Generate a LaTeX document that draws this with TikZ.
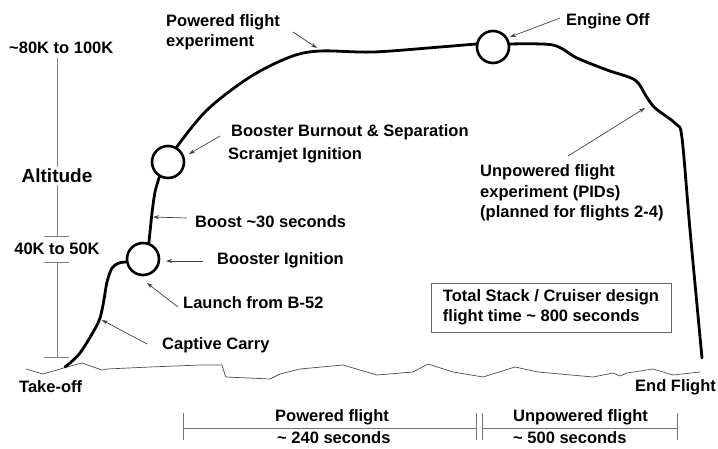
\documentclass[tikz,border=0pt]{standalone}
\usepackage{fontspec}
\setmainfont{Liberation Sans}
\usetikzlibrary{arrows.meta}
\begin{document}
\begin{tikzpicture}[x=1pt,y=-1pt,
  lbl/.style={font=\fontsize{16.5}{20.5}\selectfont\bfseries, inner sep=0pt, anchor=west, align=left},
  ptr/.style={-{Stealth[length=6pt,width=4pt]}, line width=0.7pt, draw=black!75},
  evt/.style={circle, draw=black, line width=2.6pt, minimum size=32pt, inner sep=0pt},
  traj/.style={line width=2.8pt, line cap=round, line join=round},
  axis/.style={draw=black!50, line width=0.9pt},
  ground/.style={draw=black!70, line width=0.7pt, line join=round},
  tl/.style={draw=black!55, line width=0.8pt}
  ]
\useasboundingbox (0,0) rectangle (718,448);

% ground
\draw[ground] plot coordinates {(26,369) (43,374) (67,367) (82,363) (102,370) (107,369) (150,367) (200,365) (222,365) (225,375) (226,377) (270,379) (280,374) (300,369) (343,365) (377,375) (413,372) (428,364) (453,372) (483,377) (515,367) (538,372) (593,377) (613,373) (620,376) (627,373) (653,369) (673,375) (700,372)};

% altitude axis
\draw[axis] (57,58) -- (57,236);
\draw[axis] (44,236) -- (69,236);
\draw[axis] (44,262) -- (69,262);
\draw[axis] (57,262) -- (57,357);
\draw[axis] (44,357) -- (69,357);
\node[lbl] (n80) at (9,48) {\textasciitilde80K to 100K};
\node[font=\fontsize{19}{22}\selectfont\bfseries, fill=white, inner sep=2pt] (alt) at (57,176) {Altitude};
\node[lbl, anchor=center] (n40) at (57,249) {40K to 50K};

% event circles
\node[evt] (c1) at (143,259) {};
\node[evt] (c2) at (168,162) {};
\node[evt] (c3) at (493,47) {};
\coordinate (to) at (65,367);
\coordinate (ef) at (702,358);

% trajectory
\draw[traj] plot[smooth, tension=0.5] coordinates {(to) (80,353) (98,323) (103,305) (107,282) (112,268) (119,263) (c1.190)};
\draw[traj] plot[smooth, tension=0.5] coordinates {(c1.70) (152,213) (155,192) (c2.240)};
\draw[traj] plot[smooth, tension=0.55] coordinates {(c2.60) (207,110) (250,77) (290,57) (320,51) (373,52) (440,47) (c3.170)};
\draw[traj] plot[smooth, tension=0.5] coordinates {(c3.10) (553,45) (577,58) (607,70) (635,80) (646,96) (655,108) (676,124) (682,138) (690,230) (ef)};

% labels
\node[lbl] (pfe) at (166,32) {Powered flight\\experiment};
\node[lbl] (eo) at (566,21) {Engine Off};
\node[lbl] (bbs) at (231,132) {Booster Burnout \& Separation};
\node[lbl] (sji) at (228,155) {Scramjet Ignition};
\node[lbl] (b30) at (195,222) {Boost \textasciitilde30 seconds};
\node[lbl] (bi) at (217,260) {Booster Ignition};
\node[lbl] (lb) at (183,303) {Launch from B-52};
\node[lbl] (cc) at (162,345) {Captive Carry};
\node[lbl] (ufe) at (480,193) {Unpowered flight\\experiment (PIDs)\\(planned for flights 2-4)};
\node[lbl, anchor=center, draw=black!60, line width=0.7pt, minimum width=240pt, minimum height=49pt] (box) at (551,307.5) {Total Stack / Cruiser design\\flight time \textasciitilde{} 800 seconds};
\node[lbl] (tko) at (19,387) {Take-off};
\node[lbl] (efl) at (635,387) {End Flight};

% pointer arrows
\coordinate (pcc) at (147,344); \coordinate (qcc) at (102,320);
\coordinate (plb) at (178,307); \coordinate (qlb) at (147,283);
\coordinate (pbi) at (203,261); \coordinate (qbi) at (166,261);
\coordinate (pb3) at (187,218); \coordinate (qb3) at (153,217);
\coordinate (pbb) at (220,136); \coordinate (qbb) at (189,154);
\coordinate (ppf) at (293,32);  \coordinate (qpf) at (317,48);
\coordinate (peo) at (560,18);  \coordinate (qeo) at (510,37);
\coordinate (puf) at (568,156); \coordinate (quf) at (645,108);
\draw[ptr] (pcc) -- (qcc);
\draw[ptr] (plb) -- (qlb);
\draw[ptr] (pbi) -- (qbi);
\draw[ptr] (pb3) -- (qb3);
\draw[ptr] (pbb) -- (qbb);
\draw[ptr] (ppf) -- (qpf);
\draw[ptr] (peo) -- (qeo);
\draw[ptr] (puf) -- (quf);

% bottom timeline
\coordinate (t0) at (183,428);
\coordinate (t1) at (476,428);
\coordinate (t2) at (482,428);
\coordinate (t3) at (677,428);
\draw[tl] (t0) -- (t1);
\draw[tl] (t2) -- (t3);
\draw[tl] (183,413) -- (183,440);
\draw[tl] (476,413) -- (476,440);
\draw[tl] (482,413) -- (482,440);
\draw[tl] (677,413) -- (677,440);
\node[lbl, anchor=center] (pf) at (332,417) {Powered flight};
\node[lbl] (s240) at (277,438) {\textasciitilde{} 240 seconds};
\node[lbl] (uf) at (513,417) {Unpowered flight};
\node[lbl] (s500) at (513,438) {\textasciitilde{} 500 seconds};
\end{tikzpicture}
\end{document}
